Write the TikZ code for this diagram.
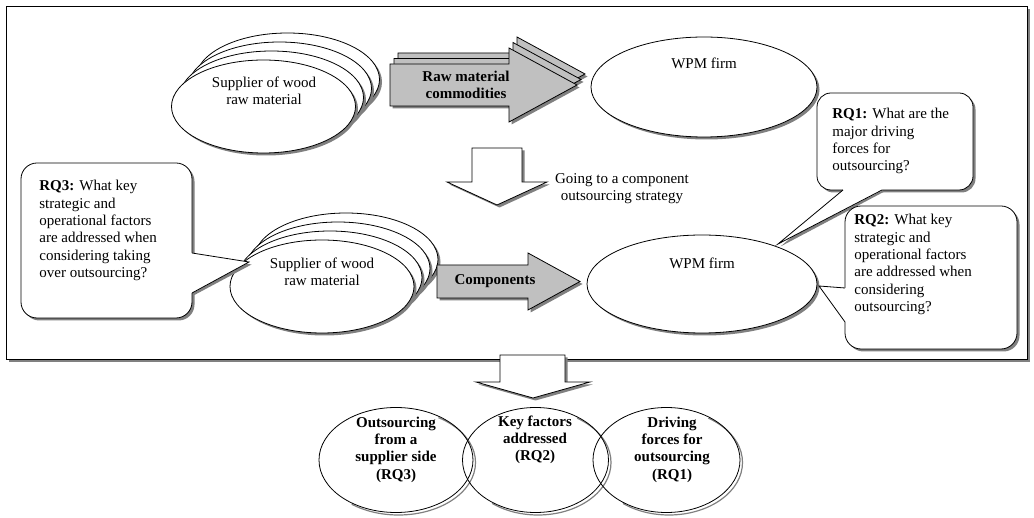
\documentclass[tikz,border=0pt]{standalone}
\usepackage{fontspec}
\setmainfont{Liberation Serif}
\usetikzlibrary{shapes.geometric,shadows}
\definecolor{arrowgray}{RGB}{192,192,192}
\definecolor{shadowgray}{RGB}{128,128,128}
\begin{document}
\begin{tikzpicture}[x=1pt,y=-1pt,line width=0.8pt,
  shd/.style={general shadow={shadow xshift=2.5pt,shadow yshift=-2.5pt,fill=shadowgray}},
  oval/.style={draw,fill=white,ellipse,inner sep=0pt,shd},
  ring/.style={draw,ellipse,inner sep=0pt,minimum height=105pt},
  ringshadow/.style={ring,draw=shadowgray,line width=1.2pt},
  qbox/.style={draw,fill=white,rectangle,rounded corners=#1,inner sep=0pt,shd},
  qbox/.default=15pt,
  txt/.style={align=center,inner sep=0pt,font=\fontsize{15}{17.3}\selectfont},
  btxt/.style={txt,font=\fontsize{15}{17.3}\selectfont\bfseries},
  qtxt/.style={align=left,inner sep=0pt,anchor=north west,font=\fontsize{15}{17.3}\selectfont},
  blockarrow/.style={draw,fill=arrowgray,shd},
  hollowarrow/.style={draw,fill=white,shd},
  wedgeshadow/.style={fill=shadowgray,shift={(2.5,2.5)}},
]
\useasboundingbox (0,0) rectangle (1034,518);

% outer frame
\draw[fill=white,line width=1pt,shd] (6,7) rectangle (1027,360);

% ---- raw material stage ----
\foreach \k in {3,2,1,0}
  \node[oval,minimum width=184pt,minimum height=93pt] (supA\k) at ({263.5+8*\k},{106.5-9*\k}) {};
\node[txt] (supAtxt) at (264,91) {Supplier of wood\\raw material};

\foreach \k in {2,1,0}
  \draw[blockarrow,shift={({4*\k},{-5.5*\k})}]
    (390,64) -- (509,64) -- (509,48) -- (577,85) -- (509,122) -- (509,106) -- (390,106) -- cycle;
\node[btxt] (rawtxt) at (466,85) {Raw material\\commodities};

\node[oval,minimum width=226pt,minimum height=100pt] (wpmA) at (704,87) {};
\node[txt] (wpmAtxt) at (704,63) {WPM firm};

% transition arrow
\draw[hollowarrow] (472,148) -- (522,148) -- (522,182) -- (547,182) -- (497,205) -- (447,182) -- (472,182) -- cycle;
\node[txt] (going) at (622,188.5) {Going to a component\\outsourcing strategy};

% ---- component stage ----
\foreach \k in {3,2,1,0}
  \node[oval,minimum width=184pt,minimum height=93pt] (supB\k) at ({322+8*\k},{286.5-9*\k}) {};
\node[txt] (supBtxt) at (322,272) {Supplier of wood\\raw material};

\draw[blockarrow] (437,265) -- (528,265) -- (528,253) -- (580,281.5) -- (528,310) -- (528,298) -- (437,298) -- cycle;
\node[btxt] (comptxt) at (495,281.5) {Components};

\node[oval,minimum width=230pt,minimum height=98pt] (wpmB) at (702,284) {};
\node[txt] (wpmBtxt) at (702,263) {WPM firm};

% callout RQ1
\fill[wedgeshadow] (843,189) -- (778,244) -- (882,189) -- cycle;
\node[qbox=14pt,minimum width=156pt,minimum height=97pt] (rq1box) at (895,141.5) {};
\fill[white] (843,186) -- (843,190.5) -- (778,244) -- (882,190.5) -- (882,186) -- cycle;
\draw (843,190) -- (778,244) -- (882,190);
\node[qtxt] (rq1) at (832,108) {\textbf{RQ1:} What are the\\major driving\\forces for\\outsourcing?};

% callout RQ2
\fill[wedgeshadow] (846,288) -- (819,286) -- (846,322) -- cycle;
\node[qbox=16pt,minimum width=172pt,minimum height=143pt] (rq2box) at (931,277.5) {};
\fill[white] (849,288) -- (844.5,288) -- (819,286) -- (844.5,322) -- (849,322) -- cycle;
\draw (845,288) -- (819,286) -- (845,322);
\node[qtxt] (rq2) at (854,214) {\textbf{RQ2:} What key\\strategic and\\operational factors\\are addressed when\\considering\\outsourcing?};

% callout RQ3
\fill[wedgeshadow] (191,253) -- (249,262) -- (191,293) -- cycle;
\node[qbox=16pt,minimum width=171pt,minimum height=155pt] (rq3box) at (106.5,240.5) {};
\fill[white] (188,253) -- (192.5,253) -- (249,262) -- (192.5,293) -- (188,293) -- cycle;
\draw (192,253) -- (249,262) -- (192,293);
\node[qtxt] (rq3) at (39,180) {\textbf{RQ3:} What key\\strategic and\\operational factors\\are addressed when\\considering taking\\over outsourcing?};

% ---- results ----
\draw[hollowarrow] (500,355) -- (565,355) -- (565,382) -- (590,382) -- (533,398) -- (476,382) -- (500,382) -- cycle;

% outline shadows, kept to the lower right of each oval
\foreach \cx/\w/\nm in {396/154/res1s,535.5/146/res2s,666.5/147/res3s}{
  \begin{scope}
    \clip ({\cx-140},{460+140}) -- ({\cx+140},{460-140}) -- ({\cx+200},{460+200}) -- cycle;
    \node[ringshadow,minimum width=\w pt] (\nm) at ({\cx+2.5},462.5) {};
  \end{scope}
}
\node[ring,minimum width=154pt] (res1) at (396,460) {};
\node[ring,minimum width=146pt] (res2) at (535.5,460) {};
\node[ring,minimum width=147pt] (res3) at (666.5,460) {};
\node[btxt] (res1txt) at (396,449.5) {Outsourcing\\from a\\supplier side\\(RQ3)};
\node[btxt] (res2txt) at (535,440) {Key factors\\addressed\\(RQ2)};
\node[btxt] (res3txt) at (672,449.5) {Driving\\forces for\\outsourcing\\(RQ1)};
\end{tikzpicture}
\end{document}
